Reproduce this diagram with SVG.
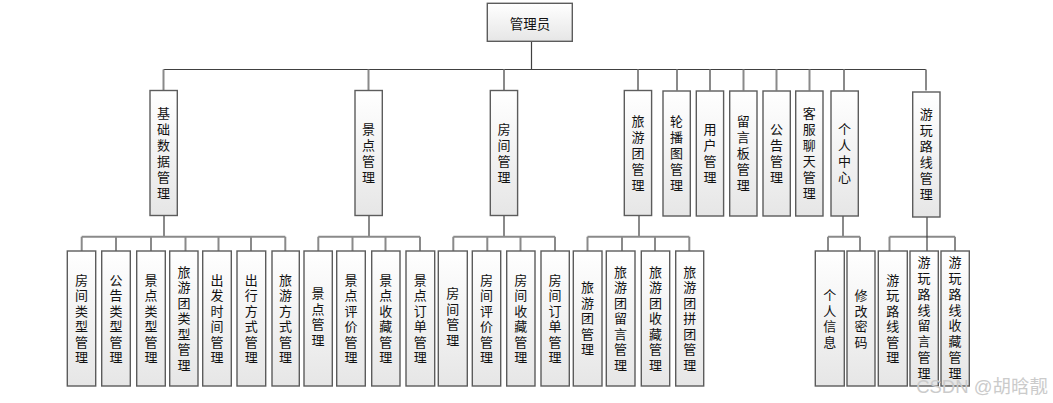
<svg xmlns="http://www.w3.org/2000/svg" width="1053" height="403" viewBox="0 0 1053 403">
<defs>
<linearGradient id="g" x1="0" y1="0" x2="0" y2="1">
<stop offset="0" stop-color="#ffffff"/>
<stop offset="1" stop-color="#e6e6e6"/>
</linearGradient>
<style>
.b{fill:url(#g);stroke:#5c5c5c;stroke-width:1.4}
.t{font-family:"Noto Sans CJK SC","Microsoft YaHei",sans-serif;font-size:13px;fill:#111;text-anchor:middle}
.h{dominant-baseline:central}
.v{writing-mode:vertical-rl;letter-spacing:2.5px}
.v1{writing-mode:vertical-rl;letter-spacing:3px}
.v8{writing-mode:vertical-rl;letter-spacing:2.8px}
.d{stroke:#404040;stroke-width:1.2;fill:none}
.s{stroke:#8a8a8a;stroke-width:2;fill:none}
.wm{font-family:"Liberation Sans","Noto Sans CJK SC",sans-serif;font-size:18.5px;fill:#cbcbcb;text-anchor:end}
</style>
</defs>
<rect width="1053" height="403" fill="#ffffff"/>
<g id="connectors">
<path class="d" d="M531.5 41.3V69.5M163.5 69.5H926"/>
<path class="s" d="M163.5 69.5V90.5M368.5 69.5V90.5M504 69.5V90.5M638 69.5V90.5M677 69.5V90.5M710 69.5V90.5M743.5 69.5V90.5M776.5 69.5V90.5M809.5 69.5V90.5M844 69.5V90.5M926 69.5V90.5"/>
<path class="s" d="M164 215.5V236.7M81.7 236.7H285.3M81.7 236.7V251M116 236.7V251M151 236.7V251M185.5 236.7V251M218.5 236.7V251M251 236.7V251M285.3 236.7V251"/>
<path class="s" d="M369 215.5V236.7M318.3 236.7H420M318.3 236.7V251M352.5 236.7V251M385.5 236.7V251M420 236.7V251"/>
<path class="s" d="M504 215.5V236.7M453.3 236.7H555M453.3 236.7V251M487.3 236.7V251M520.5 236.7V251M555 236.7V251"/>
<path class="s" d="M639 215.5V236.7M587.5 236.7H689.3M587.5 236.7V251M622 236.7V251M655 236.7V251M689.3 236.7V251"/>
<path class="s" d="M843 215.5V236.7M828 236.7H860M828 236.7V251M860 236.7V251"/>
<path class="s" d="M889.5 236.7H955M889.5 236.7V251M955 236.7V251"/>
<path class="d" d="M927 216.5V251"/>
</g>
<g id="root"><rect class="b" x="487.3" y="3.3" width="85" height="38"/><text class="t h" x="530" y="22.5" style="font-size:13.5px">管理员</text></g>

<g id="n1"><rect class="b" x="150" y="90.5" width="27.3" height="125"/><text class="t v1" x="163.6" y="154.5">基础数据管理</text></g>
<g id="n2"><rect class="b" x="355" y="90.5" width="27.3" height="125"/><text class="t v1" x="368.6" y="154.5">景点管理</text></g>
<g id="n3"><rect class="b" x="490.3" y="90.5" width="27.3" height="125"/><text class="t v1" x="504" y="154.5">房间管理</text></g>
<g id="n4"><rect class="b" x="624.3" y="90.5" width="27.3" height="125"/><text class="t v1" x="638" y="154.5">旅游团管理</text></g>
<g id="n5"><rect class="b" x="663" y="91" width="27.3" height="125"/><text class="t v1" x="676.6" y="155">轮播图管理</text></g>
<g id="n6"><rect class="b" x="696.3" y="91" width="27.3" height="125"/><text class="t v1" x="710" y="155">用户管理</text></g>
<g id="n7"><rect class="b" x="729.7" y="91" width="27.3" height="125"/><text class="t v1" x="743.3" y="155">留言板管理</text></g>
<g id="n8"><rect class="b" x="763" y="91" width="27.3" height="125"/><text class="t v1" x="776.6" y="155">公告管理</text></g>
<g id="n9"><rect class="b" x="795.7" y="91" width="27.3" height="125"/><text class="t v1" x="809.3" y="155">客服聊天管理</text></g>
<g id="n10"><rect class="b" x="831" y="91" width="27.3" height="125"/><text class="t v1" x="844.6" y="155">个人中心</text></g>
<g id="n11"><rect class="b" x="912.7" y="92" width="27.3" height="125"/><text class="t v1" x="926.3" y="156">游玩路线管理</text></g>

<g id="l1"><rect class="b" x="67.3" y="251" width="28.4" height="135"/><text class="t v" x="81.5" y="319.75">房间类型管理</text></g>
<g id="l2"><rect class="b" x="101.7" y="251" width="28.6" height="135"/><text class="t v" x="116" y="319.75">公告类型管理</text></g>
<g id="l3"><rect class="b" x="136.7" y="251" width="28.6" height="135"/><text class="t v" x="151" y="319.75">景点类型管理</text></g>
<g id="l4"><rect class="b" x="169.7" y="251" width="28.3" height="135"/><text class="t v" x="183.9" y="319.75">旅游团类型管理</text></g>
<g id="l5"><rect class="b" x="202.7" y="251" width="28.6" height="135"/><text class="t v" x="217" y="319.75">出发时间管理</text></g>
<g id="l6"><rect class="b" x="237" y="251" width="28.7" height="135"/><text class="t v" x="251.3" y="319.75">出行方式管理</text></g>
<g id="l7"><rect class="b" x="272" y="251" width="27.3" height="135"/><text class="t v" x="285.6" y="319.75">旅游方式管理</text></g>

<g id="l8"><rect class="b" x="304" y="251" width="28.3" height="135"/><text class="t v" x="318.1" y="318">景点管理</text></g>
<g id="l9"><rect class="b" x="336.7" y="251" width="28.6" height="135"/><text class="t v" x="351" y="319.75">景点评价管理</text></g>
<g id="l10"><rect class="b" x="371.7" y="251" width="28.3" height="135"/><text class="t v" x="385.8" y="319.75">景点收藏管理</text></g>
<g id="l11"><rect class="b" x="406" y="251" width="28.7" height="135"/><text class="t v" x="420.3" y="319.75">景点订单管理</text></g>

<g id="l12"><rect class="b" x="438.3" y="251" width="29" height="135"/><text class="t v" x="452.8" y="318">房间管理</text></g>
<g id="l13"><rect class="b" x="472.3" y="251" width="28.4" height="135"/><text class="t v" x="486.5" y="319.75">房间评价管理</text></g>
<g id="l14"><rect class="b" x="506.7" y="251" width="28.3" height="135"/><text class="t v" x="520.8" y="319.75">房间收藏管理</text></g>
<g id="l15"><rect class="b" x="541" y="251" width="28.3" height="135"/><text class="t v" x="555.1" y="319.75">房间订单管理</text></g>

<g id="l16"><rect class="b" x="573.3" y="251" width="28.7" height="135"/><text class="t v" x="587.6" y="319.75">旅游团管理</text></g>
<g id="l17"><rect class="b" x="606.3" y="251" width="28.7" height="135"/><text class="t v" x="620.6" y="319.75">旅游团留言管理</text></g>
<g id="l18"><rect class="b" x="641.3" y="251" width="28.4" height="135"/><text class="t v" x="655.5" y="319.75">旅游团收藏管理</text></g>
<g id="l19"><rect class="b" x="675.7" y="251" width="28" height="135"/><text class="t v" x="689.7" y="319.75">旅游团拼团管理</text></g>

<g id="l20"><rect class="b" x="815.3" y="251" width="29" height="135"/><text class="t v" x="829.8" y="319.75">个人信息</text></g>
<g id="l21"><rect class="b" x="847" y="251" width="28" height="135"/><text class="t v" x="861" y="319.75">修改密码</text></g>

<g id="l22"><rect class="b" x="878.3" y="251" width="29" height="135"/><text class="t v" x="892.8" y="319.75">游玩路线管理</text></g>
<g id="l23"><rect class="b" x="910" y="251" width="28.3" height="135"/><text class="t v8" x="924.1" y="319">游玩路线留言管理</text></g>
<g id="l24"><rect class="b" x="941" y="251" width="28.3" height="135"/><text class="t v8" x="955.1" y="319">游玩路线收藏管理</text></g>

<text class="wm" x="1048" y="393">CSDN @胡晗靓</text>
</svg>
